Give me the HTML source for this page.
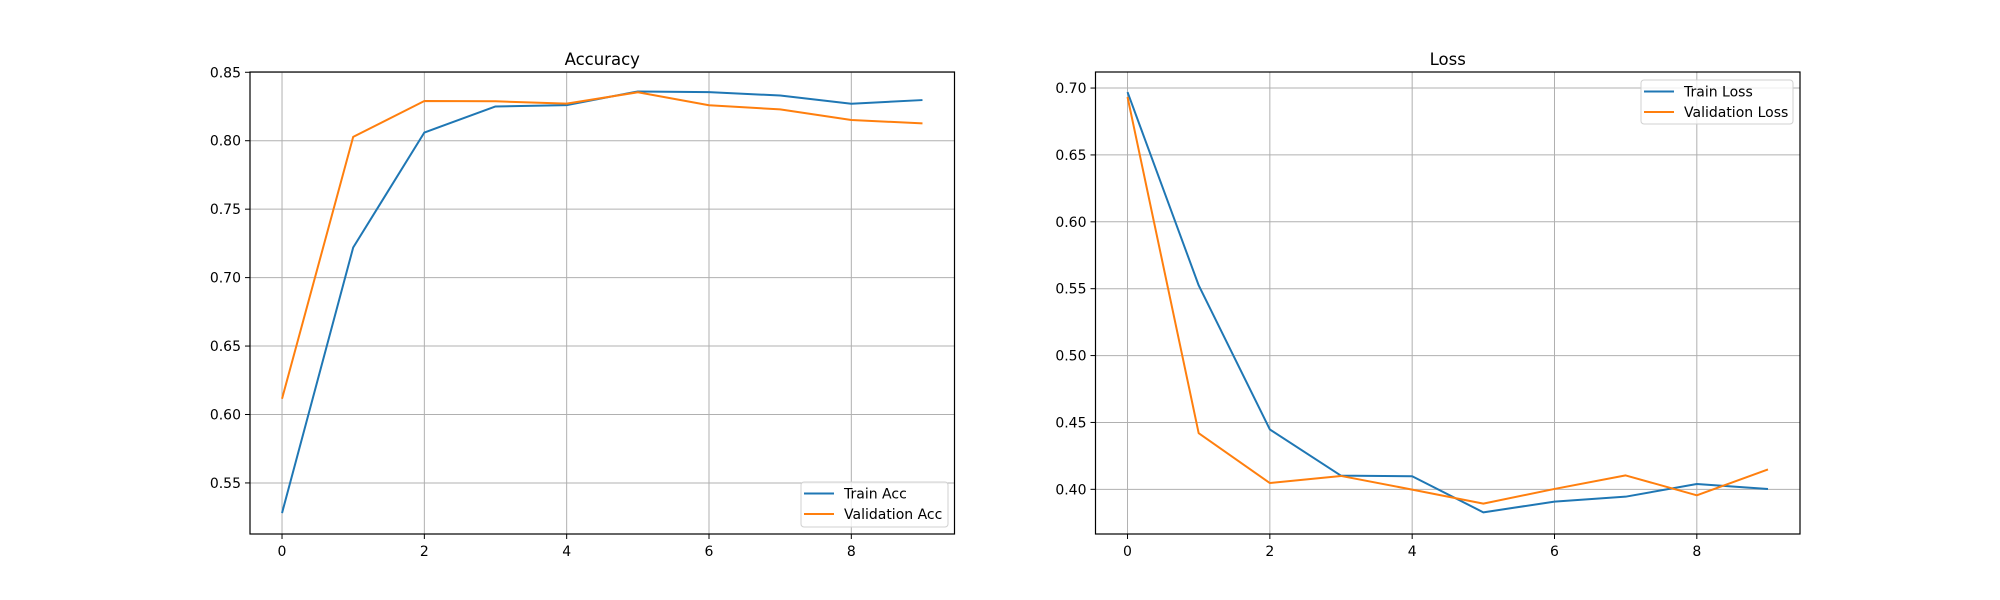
<!DOCTYPE html>
<html><head><meta charset="utf-8"><style>
html,body{margin:0;padding:0;background:#fff;}
svg{display:block;font-family:"DejaVu Sans","Liberation Sans",sans-serif;}
</style></head><body>
<svg id="fig" width="2000" height="600" viewBox="0 0 2000 600" xmlns="http://www.w3.org/2000/svg"></svg>
<script>
const epochs = [0,1,2,3,4,5,6,7,8,9];
const trainAcc = [0.528,0.722,0.806,0.825,0.826,0.836,0.8355,0.833,0.827,0.8297];
const valAcc = [0.6115,0.8028,0.829,0.8288,0.8271,0.8354,0.8259,0.8229,0.8151,0.8127];
const trainLoss = [0.697,0.5525,0.4448,0.4102,0.4098,0.3828,0.3908,0.3945,0.404,0.4002];
const valLoss = [0.6933,0.442,0.4047,0.41,0.3998,0.3893,0.4003,0.4104,0.3955,0.4149];
const xTicks = [0,2,4,6,8];
const accTicks = [0.55,0.60,0.65,0.70,0.75,0.80,0.85];
const lossTicks = [0.40,0.45,0.50,0.55,0.60,0.65,0.70];

const NS = "http://www.w3.org/2000/svg";
const svg = document.getElementById('fig');
function mk(tag, attrs, parent){
  const e = document.createElementNS(NS, tag);
  for (const k in attrs) e.setAttribute(k, attrs[k]);
  (parent||svg).appendChild(e);
  return e;
}
function panel(cfg){
  const g = mk('g', {});
  
  
  const L=cfg.x0, R=cfg.x1, T=72, B=534;
  const xs = v => L + (v - (-0.45)) / (9.45 - (-0.45)) * (R - L);
  const ys = v => B - (v - cfg.ymin) / (cfg.ymax - cfg.ymin) * (B - T);
  // grid
  xTicks.forEach(t => {
    const l = mk('line', {x1:xs(t), x2:xs(t), y1:T, y2:B, stroke:'#b0b0b0', 'stroke-width':1}, g);
    
    
    const tk = mk('line', {x1:xs(t), x2:xs(t), y1:B, y2:B+5, stroke:'#000', 'stroke-width':1}, g);
    
    
    const tx = mk('text', {x:xs(t), y:B+22, 'text-anchor':'middle', 'font-size':14, fill:'#000'}, g);
    tx.textContent = t;
    
    
  });
  cfg.ticks.forEach(t => {
    const l = mk('line', {x1:L, x2:R, y1:ys(t), y2:ys(t), stroke:'#b0b0b0', 'stroke-width':1}, g);
    
    
    const tk = mk('line', {x1:L-5, x2:L, y1:ys(t), y2:ys(t), stroke:'#000', 'stroke-width':1}, g);
    
    
    const tx = mk('text', {x:L-9, y:ys(t)+5, 'text-anchor':'end', 'font-size':14, fill:'#000'}, g);
    tx.textContent = t.toFixed(2);
    
    
  });
  const colors = ['#1f77b4','#ff7f0e'];
  cfg.series.forEach((s, i) => {
    const p = mk('polyline', {points: epochs.map((e,j)=>xs(e)+','+ys(s[j])).join(' '), fill:'none', stroke:colors[i], 'stroke-width':2, 'stroke-linejoin':'round'}, g);
    
    
  });
  const fr = mk('rect', {x:L, y:T, width:R-L, height:B-T, fill:'none', stroke:'#000', 'stroke-width':1.2}, g);
  
  
  const ti = mk('text', {x:(L+R)/2, y:T-7, 'text-anchor':'middle', 'font-size':16.5, fill:'#000'}, g);
  ti.textContent = cfg.title;
  
  
  // legend
  const lg = mk('g', {}, g);
  
  
  const b = cfg.leg;
  mk('rect', {x:b.x, y:b.y, width:b.w, height:b.h, rx:3, fill:'#fff', 'fill-opacity':0.8, stroke:'#d0d0d0', 'stroke-width':1}, lg);
  cfg.labels.forEach((lab, i) => {
    const yy = b.y + 11.5 + i*20.5;
    const ln = mk('line', {x1:b.x+3, x2:b.x+33, y1:yy, y2:yy, stroke:colors[i], 'stroke-width':2}, lg);
    
    
    const t = mk('text', {x:b.x+43, y:yy+5, 'font-size':14, fill:'#000'}, lg);
    t.textContent = lab;
    
    
  });
}
panel({name:'accuracy-chart', title:'Accuracy', x0:250, x1:954.5, ymin:0.5127, ymax:0.8502, ticks:accTicks,
  series:[trainAcc,valAcc], labels:['Train Acc','Validation Acc'], leg:{x:801,y:482,w:147,h:45}});
panel({name:'loss-chart', title:'Loss', x0:1095.5, x1:1800, ymin:0.3666, ymax:0.712, ticks:lossTicks,
  series:[trainLoss,valLoss], labels:['Train Loss','Validation Loss'], leg:{x:1641,y:80,w:152,h:44}});
</script>
</body></html>
